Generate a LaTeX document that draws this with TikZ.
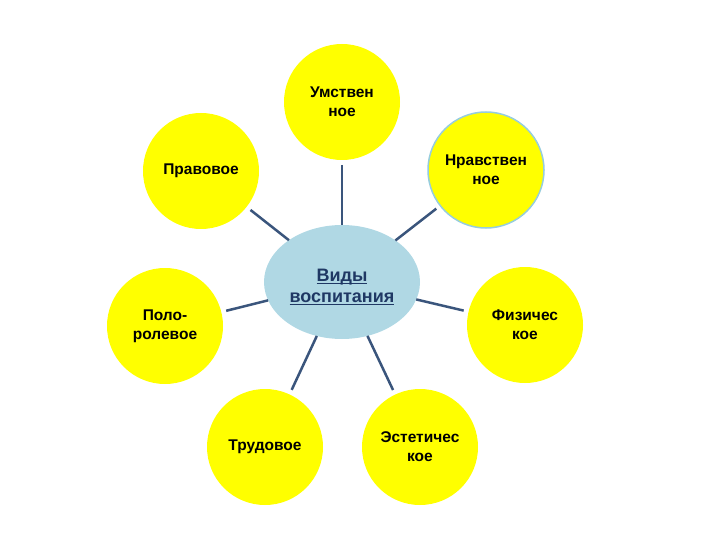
\documentclass[tikz,border=0pt]{standalone}
\usepackage{fontspec}
\setmainfont{Liberation Sans}
\usetikzlibrary{shapes.geometric}

\definecolor{bubbleyellow}{RGB}{255,255,0}
\definecolor{hubblue}{RGB}{176,216,228}
\definecolor{hubtext}{RGB}{31,56,100}
\definecolor{linkblue}{RGB}{58,85,124}
\definecolor{rimblue}{RGB}{150,205,222}

% thick underline for the hub text
\newcommand{\hubul}[1]{\setbox0\hbox{#1}\rlap{\rule[-3pt]{\wd0}{1.5pt}}\box0}

\tikzset{
    bubble/.style={circle, fill=bubbleyellow, minimum size=116pt, inner sep=0pt,
        outer sep=0pt, align=center, font=\fontsize{15.5}{19}\bfseries},
    hub/.style={ellipse, fill=hubblue, minimum width=156pt, minimum height=114pt,
        inner sep=0pt, outer sep=0pt, align=center, text=hubtext,
        font=\fontsize{18}{21}\bfseries},
    link/.style={line width=2.5pt, color=linkblue, shorten <=5pt}
}

\begin{document}
\begin{tikzpicture}

        \useasboundingbox (0pt,0pt) rectangle (720pt,-540pt);

        % hub:
        \node(VV)[hub, xshift=342pt, yshift=-282pt]{\rule{0pt}{22pt}\hubul{Виды}\\\hubul{воспитания}};

        % upper bubbles:
        \node(UMS)[bubble, xshift=342pt, yshift=-102pt]{Умствен\\ное};
        \node(NRV)[bubble, xshift=486pt, yshift=-170pt, draw=rimblue, line width=1.5pt]{Нравствен\\ное};
        \node(PRV)[bubble, xshift=201pt, yshift=-171pt]{Правовое};

        % lower bubbles:
        \node(POL)[bubble, xshift=165pt, yshift=-326pt]{Поло-\\ролевое};
        \node(FIZ)[bubble, xshift=525pt, yshift=-325pt]{Физичес\\кое};
        \node(TRD)[bubble, xshift=265pt, yshift=-447pt]{Трудовое};
        \node(EST)[bubble, xshift=420pt, yshift=-447pt]{Эстетичес\\кое};

        % links:
        \draw[link] (UMS) -- (VV);
        \draw[link] (NRV) -- (VV);
        \draw[link] (PRV) -- (VV);
        \draw[link] (POL) -- (VV);
        \draw[link] (FIZ) -- (VV);
        \draw[link] (TRD) -- (VV);
        \draw[link] (EST) -- (VV);

\end{tikzpicture}
\end{document}
